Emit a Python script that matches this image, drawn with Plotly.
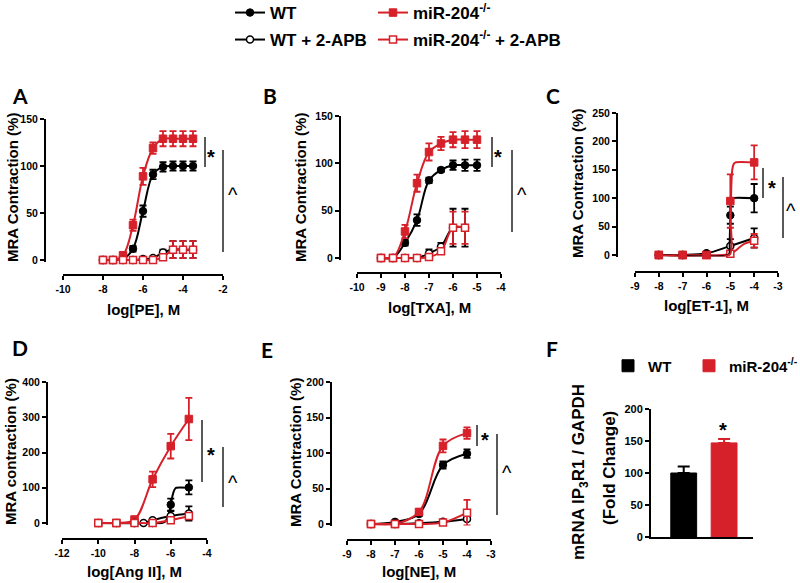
import plotly.graph_objects as go

W, H = 800, 583
def px(x): return x / W
def py(y): return 1 - y / H

RED = "#D6202A"
BLACK = "#000000"
FONT = "Liberation Sans"

# ---------------- data ----------------
# Panel A: log[PE]
A_x = [-8, -7.5, -7, -6.5, -6, -5.5, -5, -4.5, -4, -3.5]
A_wt = [0, 0, 1, 12, 52, 91, 99, 100, 100, 100]
A_wt_err = [0, 0, 1, 3, 6, 5, 5, 5, 5, 5]
A_ko = [0, 0, 5, 37, 89, 119, 129, 129, 129, 129]
A_ko_err = [0, 0, 2, 6, 9, 6, 8, 8, 8, 8]
A_wt_apb = [0, 0, 0, 0, 1, 2, 8, 11, 11, 11]
A_wt_apb_err = [0, 0, 0, 0, 1, 1, 3, 9, 9, 9]
A_ko_apb = [0, 0, 0, 0, 0, 0, 3, 11, 11, 11]
A_ko_apb_err = [0, 0, 0, 0, 0, 1, 2, 9, 9, 9]
A_xticks = [-10, -8, -6, -4, -2]
A_yticks = [0, 50, 100, 150]

# Panel B: log[TXA]
B_x = [-9, -8.5, -8, -7.5, -7, -6.5, -6, -5.5, -5]
B_wt = [0, 0, 16, 40, 82, 93, 98, 98, 98]
B_wt_err = [0, 0, 3, 6, 3, 2, 5, 6, 6]
B_ko = [0, 0, 28, 79, 112, 121, 125, 125, 125]
B_ko_err = [0, 0, 7, 9, 9, 7, 8, 9, 9]
B_apb_x = [-9, -8.5, -8, -7.5, -7, -6.5, -6, -5.5]
B_wt_apb = [0, 0, 0, 0, 5, 12, 32, 32]
B_wt_apb_err = [0, 0, 0, 0, 4, 4, 20, 20]
B_ko_apb = [0, 0, 0, 0, 1, 7, 32, 32]
B_ko_apb_err = [0, 0, 0, 0, 1, 3, 17, 17]
B_xticks = [-10, -9, -8, -7, -6, -5, -4]
B_yticks = [0, 50, 100, 150]

# Panel C: log[ET-1]
C_x = [-8, -7, -6, -5, -4]
C_wt = [0, 0, 2, 70, 100]
C_wt_err = [0, 0, 1, 15, 25]
C_ko = [0, 0, 0, 95, 163]
C_ko_err = [0, 0, 0, 47, 30]
C_wt_apb = [0, 0, 3, 16, 30]
C_wt_apb_err = [0, 0, 1, 12, 17]
C_ko_apb = [0, 0, 0, 2, 25]
C_ko_apb_err = [0, 0, 0, 3, 12]
C_wt_fit_x = [-8, -5.06, -5.03, -5.0, -4.97, -4.93, -4]
C_wt_fit_y = [0, 1, 20, 70, 96, 100, 100]
C_ko_fit_x = [-8, -5.02, -4.99, -4.96, -4.92, -4.86, -4.78, -4]
C_ko_fit_y = [0, 1, 60, 120, 150, 160, 163, 163]
C_ko_apb_fit_x = [-8, -5.3, -5.0, -4.8, -4.6, -4.4, -4.2, -4]
C_ko_apb_fit_y = [0, 0, 2, 7, 14, 20, 23, 25]
C_xticks = [-9, -8, -7, -6, -5, -4, -3]
C_yticks = [0, 50, 100, 150, 200, 250]

# Panel D: log[Ang II]
D_x = [-10, -9, -8, -7, -6, -5]
D_wt = [0, 0, 0, 0, 52, 101]
D_wt_err = [0, 0, 0, 0, 17, 20]
D_ko = [0, 0, 10, 124, 218, 295]
D_ko_err = [0, 0, 5, 22, 35, 60]
D_wt_apb_x = [-8, -7.5, -7, -6, -5]
D_wt_apb = [0, 0, 8, 20, 27]
D_wt_apb_err = [0, 0, 4, 14, 20]
D_ko_apb = [0, 0, 0, 0, 8, 20]
D_ko_apb_err = [0, 0, 0, 0, 5, 8]
D_wt_fit_x = [-10, -6.5, -6.3, -6.15, -6.0, -5.9, -5.8, -5.7, -5]
D_wt_fit_y = [0, 0, 4, 20, 50, 78, 94, 100, 100]
D_xticks = [-12, -10, -8, -6, -4]
D_yticks = [0, 100, 200, 300, 400]

# Panel E: log[NE]
E_x = [-8, -7, -6, -5, -4]
E_wt = [0, 3, 14, 83, 99]
E_wt_err = [0, 1, 3, 5, 6]
E_ko = [0, 0, 17, 110, 128]
E_ko_err = [0, 0, 4, 9, 8]
E_wt_apb = [0, 0, 1, 3, 7]
E_wt_apb_err = [0, 0, 0, 1, 2]
E_ko_apb = [0, 0, 0, 2, 16]
E_ko_apb_err = [0, 0, 0, 1, 18]
E_xticks = [-9, -8, -7, -6, -5, -4, -3]
E_yticks = [0, 50, 100, 150, 200]

# Panel F: mRNA IP3R1 / GAPDH
F_groups = ["WT", "miR-204<sup>-/-</sup>"]
F_vals = [100, 147]
F_err = [10, 6]
F_yticks = [0, 50, 100, 150, 200]

SERIES_NAMES = ["WT", "miR-204<sup>-/-</sup>", "WT + 2-APB", "miR-204<sup>-/-</sup> + 2-APB"]

fig = go.Figure()

STYLE = {
    "wt": dict(color=BLACK, marker=dict(symbol="circle", size=7.5, color=BLACK, line=dict(color=BLACK, width=1))),
    "ko": dict(color=RED, marker=dict(symbol="square", size=7.5, color=RED, line=dict(color=RED, width=1))),
    "wt_apb": dict(color=BLACK, marker=dict(symbol="circle", size=7, color="white", line=dict(color=BLACK, width=1.5))),
    "ko_apb": dict(color=RED, marker=dict(symbol="square", size=7, color="white", line=dict(color=RED, width=1.5))),
}
LEG = {"wt": ("legend", SERIES_NAMES[0]), "ko": ("legend3", SERIES_NAMES[1]),
       "wt_apb": ("legend2", SERIES_NAMES[2]), "ko_apb": ("legend4", SERIES_NAMES[3])}


def add_series(n, key, x, y, err, fit_x=None, fit_y=None, show_legend=False):
    st = STYLE[key]
    xa = "x" if n == 1 else f"x{n}"
    ya = "y" if n == 1 else f"y{n}"
    legend, name = LEG[key]
    eb = dict(type="data", array=err, visible=True, color=st["color"], thickness=1.8, width=3.5)
    if fit_x is not None:
        fig.add_trace(go.Scatter(x=fit_x, y=fit_y, mode="lines", xaxis=xa, yaxis=ya,
                                 line=dict(color=st["color"], width=2, shape="spline", smoothing=0.6),
                                 showlegend=False, hoverinfo="skip"))
        fig.add_trace(go.Scatter(x=x, y=y, mode="markers", xaxis=xa, yaxis=ya, marker=st["marker"],
                                 error_y=eb, cliponaxis=False, showlegend=False, name=name))
    else:
        fig.add_trace(go.Scatter(x=x, y=y, mode="lines+markers", xaxis=xa, yaxis=ya, marker=st["marker"],
                                 line=dict(color=st["color"], width=2, shape="spline"),
                                 error_y=eb, cliponaxis=False, showlegend=show_legend,
                                 legend=legend, name=name))


# Panel A
add_series(1, "wt", A_x, A_wt, A_wt_err, show_legend=True)
add_series(1, "ko", A_x, A_ko, A_ko_err, show_legend=True)
add_series(1, "wt_apb", A_x, A_wt_apb, A_wt_apb_err, show_legend=True)
add_series(1, "ko_apb", A_x, A_ko_apb, A_ko_apb_err, show_legend=True)
# Panel B
add_series(2, "wt", B_x, B_wt, B_wt_err)
add_series(2, "ko", B_x, B_ko, B_ko_err)
add_series(2, "wt_apb", B_apb_x, B_wt_apb, B_wt_apb_err)
add_series(2, "ko_apb", B_apb_x, B_ko_apb, B_ko_apb_err)
# Panel C
add_series(3, "wt_apb", C_x, C_wt_apb, C_wt_apb_err)
add_series(3, "ko_apb", C_x, C_ko_apb, C_ko_apb_err, C_ko_apb_fit_x, C_ko_apb_fit_y)
add_series(3, "wt", C_x, C_wt, C_wt_err, C_wt_fit_x, C_wt_fit_y)
add_series(3, "ko", C_x, C_ko, C_ko_err, C_ko_fit_x, C_ko_fit_y)
# Panel D
add_series(4, "ko", D_x, D_ko, D_ko_err)
add_series(4, "wt", D_x, D_wt, D_wt_err, D_wt_fit_x, D_wt_fit_y)
add_series(4, "wt_apb", D_wt_apb_x, D_wt_apb, D_wt_apb_err)
add_series(4, "ko_apb", D_x, D_ko_apb, D_ko_apb_err)
# Panel E
add_series(5, "wt", E_x, E_wt, E_wt_err)
add_series(5, "ko", E_x, E_ko, E_ko_err)
add_series(5, "wt_apb", E_x, E_wt_apb, E_wt_apb_err)
add_series(5, "ko_apb", E_x, E_ko_apb, E_ko_apb_err)

# Panel F bars
F_colors = [BLACK, RED]
F_legends = ["legend5", "legend6"]
for i in range(2):
    fig.add_trace(go.Bar(x=[F_groups[i]], y=[F_vals[i]], xaxis="x6", yaxis="y6", width=0.64,
                         marker=dict(color=F_colors[i], line=dict(color=F_colors[i], width=1)),
                         error_y=dict(type="data", array=[F_err[i]], arrayminus=[0], symmetric=False,
                                      color=F_colors[i], thickness=2, width=6),
                         name=F_groups[i], legend=F_legends[i], showlegend=True))

TICKFONT = dict(family=FONT, size=10.5, color="black", weight="bold")

# axis geometry in pixels: (ylinex, y0px, y1px, xaxis_y, xleft, xright)
PANELS = [
    (1, A_xticks, A_yticks, 45, 260, 119, 275, 63, 223),
    (2, B_xticks, B_yticks, 340, 258, 116, 273, 357, 501),
    (3, C_xticks, C_yticks, 617, 255, 113, 272, 635, 778),
    (4, D_xticks, D_yticks, 47, 523, 382, 539, 62, 207),
    (5, E_xticks, E_yticks, 331, 524, 382, 540, 347, 491),
]
PAD = 1.5
for (n, xt, yt, ylx, y0, y1, xay, xl, xr) in PANELS:
    ymin, ymax = yt[0], yt[-1]
    upp = (ymax - ymin) / (y0 - y1)
    sfx = "" if n == 1 else str(n)
    fig.layout["xaxis" + sfx] = dict(
        domain=[px(xl), px(xr)], range=[xt[0], xt[-1]], anchor="free", position=py(xay),
        tickmode="array", tickvals=xt, ticktext=[str(v) for v in xt],
        showline=True, linecolor="black", linewidth=2, ticks="outside", ticklen=4, tickwidth=2,
        tickcolor="black", showgrid=False, zeroline=False, tickfont=TICKFONT, fixedrange=True)
    fig.layout["yaxis" + sfx] = dict(
        domain=[py(y0 + PAD), py(y1)], range=[ymin - PAD * upp, ymax], anchor="free", position=px(ylx),
        tickmode="array", tickvals=yt, ticktext=[str(v) for v in yt],
        showline=True, linecolor="black", linewidth=2, ticks="outside", ticklen=4, tickwidth=2,
        tickcolor="black", showgrid=False, zeroline=False, tickfont=TICKFONT, fixedrange=True)

fig.layout["xaxis6"] = dict(domain=[px(651), px(753)], range=[-0.81, 1.716], anchor="y6",
                            type="category", showticklabels=False, ticks="", showline=True,
                            linecolor="black", linewidth=2, showgrid=False, zeroline=False)
fig.layout["yaxis6"] = dict(domain=[py(537), py(409)], range=[0, 200], anchor="x6",
                            tickmode="array", tickvals=F_yticks, ticktext=[str(v) for v in F_yticks],
                            showline=True, linecolor="black", linewidth=2, ticks="outside", ticklen=4,
                            tickwidth=2, tickcolor="black", showgrid=False, zeroline=False,
                            tickfont=dict(family=FONT, size=11, color="black", weight="bold"))

ann = []
def text(x, y, s, size=15, angle=0, family=FONT, weight="bold"):
    ann.append(dict(x=px(x), y=py(y), xref="paper", yref="paper", text=s, showarrow=False,
                    xanchor="center", yanchor="middle", textangle=angle,
                    font=dict(family=family, size=size, color="black", weight=weight)))

# panel letters
for (lx, ly, s) in [(20, 96, "A"), (270, 96, "B"), (553, 96, "C"), (20, 347, "D"), (267, 349, "E"), (552, 348, "F")]:
    text(lx, ly, s, size=21, family="Lato")

# axis titles
text(143, 309, "log[PE], M")
text(429, 307, "log[TXA], M")
text(706, 305, "log[ET-1], M")
text(134.5, 571, "log[Ang II], M")
text(419, 571, "log[NE], M")
text(12, 188, "MRA Contraction (%)", angle=-90)
text(300, 188, "MRA Contraction (%)", angle=-90)
text(578, 184, "MRA Contraction (%)", angle=-90)
text(10, 452, "MRA contraction (%)", angle=-90)
text(295, 453, "MRA Contraction (%)", angle=-90)
text(580, 472, "mRNA IP<sub>3</sub>R1 / GAPDH", size=17, angle=-90)
text(609, 468, "(Fold Change)", size=17, angle=-90)

# significance marks
shapes = []
def vbar(x, ya, yb):
    shapes.append(dict(type="line", xref="paper", yref="paper", x0=px(x), x1=px(x), y0=py(ya), y1=py(yb),
                       line=dict(color="#222222", width=1.5)))

for (sx, s0, s1, stx, sty, cx, c0, c1, ctx, cty) in [
    (205, 137, 167, 211, 152, 223, 150, 252, 233, 192),
    (492, 137, 167, 498, 152, 512, 150, 232, 522, 192),
    (763, 168, 198, 772, 183, 783, 177, 238, 791, 208),
    (202, 420, 482, 211, 450, 223, 447, 507, 233, 480),
    (477, 425, 446, 485, 435, 497, 434, 515, 507, 470),
]:
    vbar(sx, s0, s1)
    vbar(cx, c0, c1)
    text(stx, sty + 4.5, "*", size=20)
    text(ctx, cty + 3.2, "^", size=20, weight="normal")

text(723, 430, "*", size=20)

def legend_at(x, y, size=17):
    return dict(x=px(x), y=py(y), xanchor="left", yanchor="middle", bgcolor="rgba(0,0,0,0)",
                borderwidth=0, font=dict(family=FONT, size=size, color="black", weight="bold"),
                itemwidth=30, tracegroupgap=0)

fig.update_layout(
    width=W, height=H, margin=dict(l=0, r=0, t=0, b=0, autoexpand=False),
    plot_bgcolor="white", paper_bgcolor="white",
    annotations=ann, shapes=shapes, barmode="overlay",
    legend=legend_at(230, 13), legend2=legend_at(230, 40),
    legend3=legend_at(373, 13), legend4=legend_at(373, 40),
    legend5=legend_at(608, 366, 15), legend6=legend_at(689, 366, 15),
)

fig.write_html("out.html", config={"displayModeBar": False},
               post_script="document.body.style.margin='0px';document.body.style.padding='0px';")
